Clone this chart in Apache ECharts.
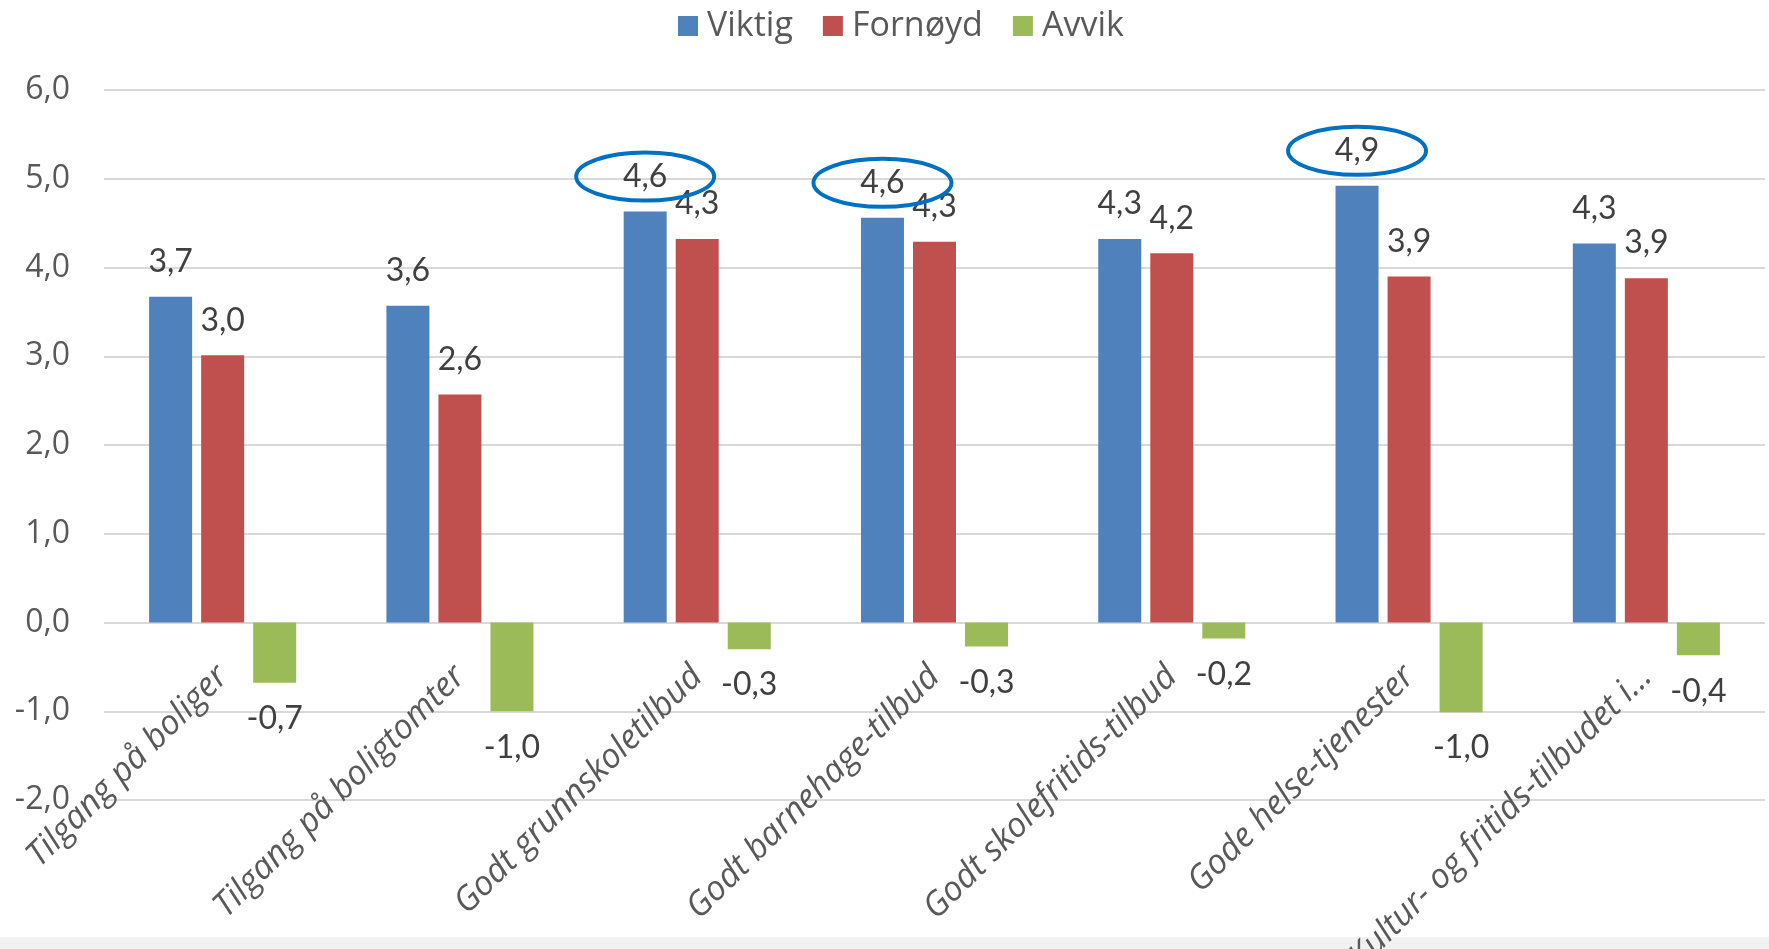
<!DOCTYPE html>
<html>
<head>
<meta charset="utf-8">
<script src="https://cdn.jsdelivr.net/npm/echarts@6/dist/echarts.min.js"></script>
<style>
html,body{margin:0;padding:0;background:#fff;}
#c{width:1769px;height:949px;}
</style>
</head>
<body>
<div id="c"></div>
<script>
const categories = ['Tilgang på boliger','Tilgang på boligtomter','Godt grunnskoletilbud','Godt barnehage-tilbud','Godt skolefritids-tilbud','Gode helse-tjenester','Kultur- og fritids-tilbudet i...'];
const viktig  = [3.67, 3.57, 4.63, 4.56, 4.32, 4.92, 4.27];
const fornoyd = [3.01, 2.57, 4.32, 4.29, 4.16, 3.90, 3.88];
const avvik   = [-0.68, -1.00, -0.30, -0.27, -0.18, -1.01, -0.37];
const seriesNames = ['Viktig','Fornøyd','Avvik'];
const yTicks = {min:-2, max:6, interval:1};
const circledViktig = [2, 3, 5];

const fmt = v => (typeof v === 'object' ? v.value : v).toFixed(1).replace('.', ',');
const labelStyle = {fontFamily:'Lato', fontSize:32, color:'#404040'};

const chart = echarts.init(document.getElementById('c'), null, {renderer:'canvas'});
chart.setOption({
  animation:false,
  color:['#4F81BD','#C0504D','#9BBB59'],
  legend:{
    data:seriesNames, top:4, left:673, icon:'rect', itemWidth:20, itemHeight:20, itemGap:30,
    textStyle:{fontFamily:'Open Sans', fontSize:34, color:'#595959', padding:[0,0,0,4]}
  },
  grid:{left:104, right:4, top:90, bottom:149, containLabel:false, outerBoundsMode:'none'},
  xAxis:{
    type:'category', data:categories,
    axisLine:{show:false, onZero:false},
    axisTick:{show:false},
    axisLabel:{rotate:45, interval:0, margin:49, fontFamily:'Open Sans', fontStyle:'italic', fontSize:34, color:'#595959'}
  },
  yAxis:{
    type:'value', min:yTicks.min, max:yTicks.max, interval:yTicks.interval,
    axisLine:{show:false}, axisTick:{show:false},
    splitLine:{lineStyle:{color:'#d9d9d9', width:2}},
    axisLabel:{formatter:v=>v.toFixed(1).replace('.', ','), fontFamily:'Open Sans', fontSize:32, color:'#595959', margin:34}
  },
  series:[
    {name:'Viktig', type:'bar', data:viktig, barWidth:43, barGap:'21%', label:Object.assign({show:true, position:'top', distance:19, formatter:fmt}, labelStyle)},
    {name:'Fornøyd', type:'bar', data:fornoyd, barWidth:43, barGap:'21%', label:Object.assign({show:true, position:'top', distance:19, formatter:fmt}, labelStyle)},
    {name:'Avvik', type:'bar', data:avvik, barWidth:43, barGap:'21%', label:Object.assign({show:true, position:'bottom', distance:20, formatter:fmt}, labelStyle)}
  ]
});

// Move category labels up to the zero line (as in the reference), using the y scale
const yZero = chart.convertToPixel({yAxisIndex:0}, 0);
const yMinPx = chart.convertToPixel({yAxisIndex:0}, yTicks.min);
chart.setOption({xAxis:{offset:-(yMinPx - yZero)}});

// Ellipses around selected Viktig labels, positioned from the library's layout
const data = chart.getModel().getSeriesByIndex(0).getData();
const graphics = [];
circledViktig.forEach(i => {
  const lay = data.getItemLayout(i);
  let cx = lay.x + lay.width/2, cy;
  const el = data.getItemGraphicEl(i);
  const t = el && el.getTextContent && el.getTextContent();
  if (t) {
    const r = t.getBoundingRect().clone();
    const m = t.getComputedTransform ? t.getComputedTransform() : null;
    if (m) r.applyTransform(m); else { r.x += t.x; r.y += t.y; }
    cx = r.x + r.width/2; cy = r.y + r.height/2;
  } else {
    cy = Math.min(lay.y, lay.y + lay.height) - 40;
  }
  graphics.push({type:'ellipse', z:100, shape:{cx:cx, cy:cy, rx:69, ry:24}, style:{fill:null, stroke:'#0070C0', lineWidth:4}});
});
graphics.push({type:'rect', z:-1, shape:{x:0, y:937, width:1769, height:12}, style:{fill:'#f2f2f2'}});
chart.setOption({graphic:graphics});
</script>
</body>
</html>
